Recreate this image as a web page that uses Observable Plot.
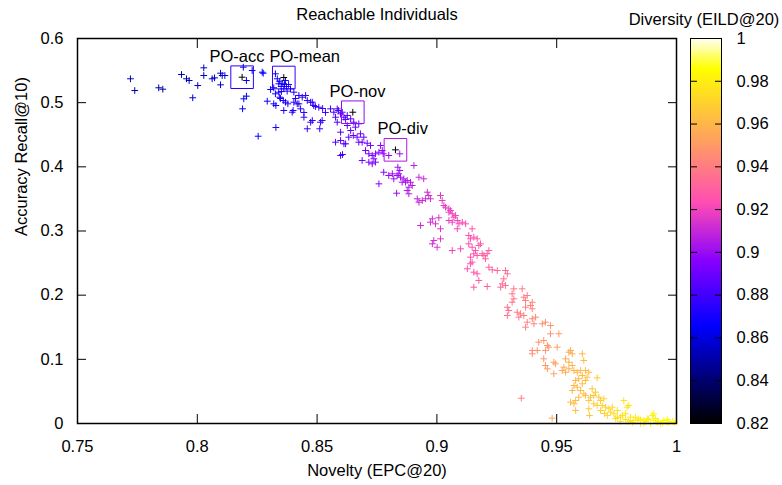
<!DOCTYPE html>
<html><head><meta charset="utf-8">
<script src="https://cdn.jsdelivr.net/npm/d3@7"></script>
<script src="https://cdn.jsdelivr.net/npm/@observablehq/plot@0.6"></script>
<style>
body{margin:0;background:#fff;}
#chart{position:relative;width:782px;height:485px;background:#fff;}
#chart svg{position:absolute;left:0;top:0;}
</style></head><body><div id="chart"></div>
<script>
// Novelty (EPC@20) of each reachable individual
const novelty = [
0.7721,0.7739,0.7839,0.7856,0.7934,0.7955,0.7966,0.8002,0.7981,0.8027,
0.8027,0.8062,0.8072,0.8097,0.8104,0.8097,0.8115,0.8192,0.8229,0.8271,
0.8205,0.8205,0.8194,0.8189,0.8292,0.8254,0.8328,0.8328,
0.8275,0.8306,0.8326,0.8334,0.8344,0.8354,0.8364,0.8372,0.8350,0.8340,
0.8361,0.8319,0.8381,0.8351,0.8368,0.8389,0.8403,0.8424,0.8438,0.8452,
0.8459,0.8480,0.8493,0.8507,0.8445,0.8480,0.8459,0.8511,0.8521,0.8400,
0.8417,0.8359,0.8344,0.8326,0.8378,0.8361,0.8431,0.8340,0.8375,0.8403,
0.8424,0.8473,0.8486,0.8473,0.8514,0.8319,0.8347,0.8368,0.8396,0.8445,
0.8535,0.8523,0.8410,
0.8556,0.8570,0.8584,0.8598,0.8577,0.8612,0.8626,0.8640,0.8653,0.8674,
0.8660,0.8626,0.8640,0.8651,0.8667,0.8681,0.8695,0.8674,0.8598,0.8577,
0.8598,0.8612,0.8598,0.8606,0.8584,0.8632,0.8619,0.8589,0.8605,0.8619,
0.8688,
0.8709,0.8723,0.8702,0.8716,0.8730,0.8744,0.8737,0.8716,0.8730,0.8744,
0.8688,0.8765,0.8772,0.8776,0.8758,0.8845,0.8799,0.8904,0.8837,0.8845,
0.8841,0.8848,0.8834,0.8814,0.8799,0.8778,0.8862,0.8876,0.8890,0.8897,
0.8883,0.8869,0.8855,0.8820,0.8758,0.8832,0.8925,0.8945,0.8876,0.8883,
0.8960,0.8966,0.8973,0.8953,0.8939,0.8925,0.8918,0.9015,0.9022,0.9029,
0.9036,0.9050,0.9057,0.9064,0.9050,0.9078,0.9071,0.8981,0.8973,0.9008,
0.8994,0.8932,0.9050,0.9064,0.9085,0.9092,0.9106,0.9120,0.9015,0.9085,
0.8987,0.9015,0.9001,0.8981,0.9064,0.9099,
0.9147,0.9133,0.9140,0.9154,0.9168,0.9133,0.9147,0.9161,0.9175,0.9182,
0.9154,0.9168,0.9196,0.9203,0.9210,0.9217,0.9189,0.9140,0.9147,0.9140,
0.9127,0.9154,0.9168,0.9175,0.9154,0.9210,0.9217,0.9231,0.9252,0.9286,
0.9294,0.9279,0.9273,0.9266,0.9286,0.9321,0.9314,0.9356,0.9321,0.9314,
0.9363,0.9377,0.9370,0.9398,0.9391,0.9370,0.9398,0.9294,0.9300,0.9294,
0.9335,0.9349,0.9363,0.9342,0.9398,0.9405,0.9412,0.9377,0.9370,0.9440,
0.9453,0.9474,0.9474,0.9509,0.9446,0.9461,0.9453,0.9425,0.9419,0.9398,
0.9502,0.9551,0.9537,0.9446,0.9398,0.9467,
0.9453,0.9461,0.9488,0.9495,0.9488,0.9558,0.9565,0.9607,0.9613,0.9551,
0.9530,0.9523,0.9537,0.9551,0.9565,0.9572,0.9586,0.9600,0.9620,0.9634,
0.9607,0.9592,0.9579,0.9572,0.9565,0.9586,0.9600,0.9607,0.9620,0.9627,
0.9669,0.9613,0.9592,0.9579,0.9558,0.9572,0.9579,0.9620,0.9634,0.9641,
0.9655,0.9662,0.9648,0.9676,0.9683,0.9697,0.9655,0.9634,0.9669,0.9690,
0.9704,0.9718,0.9725,0.9739,0.9732,0.9753,0.9780,0.9794,0.9801,0.9787,
0.9774,0.9766,0.9808,0.9829,0.9843,0.9864,0.9878,0.9899,0.9905,0.9920,
0.9933,0.9947,0.9961,0.9864,0.9892,0.9836,0.9822,0.9711,0.9753,0.9808,
0.9850,0.9637,0.9352,0.9481,0.9905,0.9968,0.9746,0.9787,0.9800,0.9871,
0.9883,0.9925,0.9942,0.9984,0.9700,0.9683,0.9766,0.9817,0.9850,0.9913,
0.9963,0.9992
];
// Accuracy (Recall@10)
const accuracy = [
0.5372,0.5189,0.5232,0.5210,0.5439,0.5372,0.5345,0.5267,0.5076,0.5543,
0.5423,0.5372,0.5387,0.5459,0.5423,0.5278,0.5423,0.5553,0.5501,0.5475,
0.5345,0.5101,0.5060,0.4904,0.5023,0.4477,0.4613,0.4956,
0.5459,0.5205,0.5450,0.5372,0.5334,0.5303,0.5283,0.5252,0.5252,0.5294,
0.5216,0.5232,0.5283,0.5174,0.5345,0.5216,0.5163,0.5112,0.5085,0.5112,
0.5034,0.5007,0.4940,0.4929,0.4773,0.4722,0.4593,0.4593,0.4722,0.4878,
0.4982,0.5034,0.5085,0.5138,0.4982,0.4878,0.4904,0.5163,0.5179,0.5007,
0.4982,0.5007,0.4956,0.4695,0.4695,0.4982,0.5065,0.5007,0.4851,0.4847,
0.4847,0.4909,0.5065,
0.4904,0.4851,0.4904,0.4826,0.4773,0.4773,0.4800,0.4748,0.4695,0.4671,
0.4618,0.4644,0.4566,0.4488,0.4462,0.4515,0.4462,0.4384,0.4540,0.4384,
0.4410,0.4359,0.4177,0.4192,0.4695,0.4462,0.4359,0.4878,0.4851,0.4738,
0.4384,
0.4368,0.4332,0.4254,0.4203,0.4177,0.4203,0.4125,0.4072,0.4047,0.4072,
0.4099,0.4332,0.4254,0.4203,0.4228,0.4203,0.4177,0.4021,0.3994,0.3943,
0.3891,0.3838,0.3865,0.3891,0.3865,0.3916,0.3813,0.3787,0.3760,0.3709,
0.3683,0.3760,0.3760,0.3813,0.3735,0.3589,0.3838,0.3813,0.3631,0.3580,
0.3605,0.3553,0.3502,0.3502,0.3475,0.3449,0.3502,0.3553,0.3475,0.3397,
0.3371,0.3346,0.3319,0.3268,0.3293,0.3241,0.3215,0.3190,0.3137,0.3206,
0.3112,0.3086,0.3164,0.3137,0.3164,0.3112,0.3137,0.3112,0.3034,0.3034,
0.2852,0.2878,0.2747,0.2800,0.2696,0.2722,
0.3034,0.2930,0.2878,0.2903,0.2878,0.2800,0.2747,0.2696,0.2774,0.2800,
0.2645,0.2618,0.2618,0.2567,0.2645,0.2696,0.2645,0.2592,0.2514,0.2489,
0.2411,0.2358,0.2333,0.2229,0.2124,0.2135,0.2436,0.2395,0.2384,0.2384,
0.2333,0.2255,0.2177,0.2124,0.2151,0.2099,0.2021,0.2099,0.1943,0.1890,
0.1968,0.1995,0.1917,0.1890,0.1839,0.1812,0.1787,0.1812,0.1761,0.1683,
0.1734,0.1709,0.1683,0.1657,0.1632,0.1554,0.1657,0.1579,0.1501,0.1554,
0.1579,0.1527,0.1398,0.1398,0.1293,0.1216,0.1138,0.1267,0.1138,0.1138,
0.1189,0.1111,0.1008,0.1008,0.1086,0.1189,
0.0904,0.0852,0.0955,0.0930,0.0775,0.1138,0.1086,0.1086,0.0982,0.0955,
0.0877,0.0826,0.0799,0.0852,0.0904,0.0826,0.0799,0.0826,0.0826,0.0799,
0.0748,0.0697,0.0670,0.0592,0.0514,0.0566,0.0514,0.0619,0.0670,0.0722,
0.0712,0.0463,0.0410,0.0358,0.0332,0.0307,0.0203,0.0436,0.0358,0.0410,
0.0436,0.0488,0.0541,0.0410,0.0358,0.0385,0.0307,0.0229,0.0281,0.0281,
0.0254,0.0229,0.0176,0.0151,0.0254,0.0203,0.0358,0.0254,0.0281,0.0151,
0.0125,0.0098,0.0098,0.0098,0.0073,0.0047,0.0073,0.0125,0.0047,0.0020,
0.0000,0.0047,0.0020,0.0005,0.0000,0.0047,0.0047,0.0125,0.0098,0.0047,
0.0058,0.0125,0.0394,0.0083,0.0151,0.0020,0.0078,0.0062,0.0031,0.0031,
0.0062,0.0031,0.0016,0.0031,0.0156,0.0203,0.0031,0.0016,0.0000,0.0078,
0.0062,0.0016
];
// Diversity (EILD@20)
const diversity = [
0.850,0.850,0.851,0.851,0.853,0.852,0.853,0.854,0.856,0.855,
0.854,0.855,0.855,0.856,0.857,0.856,0.857,0.860,0.862,0.866,
0.860,0.861,0.862,0.863,0.866,0.868,0.870,0.868,
0.864,0.866,0.866,0.867,0.868,0.868,0.869,0.870,0.869,0.868,
0.870,0.867,0.870,0.870,0.868,0.871,0.872,0.873,0.874,0.874,
0.875,0.876,0.877,0.878,0.875,0.876,0.876,0.878,0.878,0.872,
0.873,0.871,0.870,0.869,0.872,0.872,0.874,0.869,0.871,0.873,
0.874,0.876,0.877,0.876,0.878,0.869,0.870,0.871,0.873,0.875,
0.879,0.878,0.873,
0.880,0.881,0.882,0.883,0.882,0.884,0.885,0.886,0.887,0.888,
0.887,0.885,0.886,0.887,0.888,0.889,0.890,0.889,0.884,0.883,
0.884,0.885,0.880,0.881,0.882,0.886,0.885,0.882,0.883,0.884,
0.890,
0.891,0.892,0.891,0.892,0.893,0.894,0.893,0.892,0.893,0.894,
0.890,0.895,0.896,0.896,0.895,0.900,0.897,0.907,0.900,0.901,
0.901,0.902,0.900,0.899,0.898,0.897,0.903,0.904,0.905,0.906,
0.905,0.904,0.903,0.900,0.896,0.899,0.909,0.910,0.905,0.906,
0.911,0.912,0.912,0.911,0.910,0.909,0.908,0.915,0.916,0.916,
0.917,0.918,0.918,0.919,0.918,0.920,0.919,0.912,0.912,0.914,
0.913,0.909,0.918,0.919,0.920,0.921,0.922,0.923,0.915,0.920,
0.913,0.915,0.914,0.912,0.919,0.921,
0.924,0.923,0.924,0.925,0.926,0.923,0.924,0.925,0.926,0.927,
0.925,0.926,0.928,0.928,0.929,0.929,0.927,0.924,0.924,0.924,
0.923,0.925,0.926,0.927,0.926,0.930,0.929,0.930,0.932,0.934,
0.935,0.934,0.933,0.933,0.934,0.937,0.936,0.939,0.937,0.936,
0.939,0.940,0.940,0.942,0.941,0.940,0.942,0.935,0.936,0.935,
0.938,0.939,0.940,0.938,0.942,0.943,0.943,0.941,0.941,0.945,
0.946,0.947,0.948,0.950,0.947,0.948,0.948,0.946,0.946,0.945,
0.951,0.955,0.955,0.948,0.945,0.948,
0.950,0.951,0.952,0.953,0.953,0.956,0.957,0.960,0.961,0.957,
0.956,0.956,0.957,0.958,0.958,0.959,0.960,0.961,0.962,0.963,
0.961,0.961,0.960,0.960,0.960,0.961,0.962,0.962,0.963,0.963,
0.966,0.963,0.962,0.962,0.961,0.962,0.963,0.964,0.965,0.965,
0.966,0.966,0.965,0.967,0.968,0.969,0.967,0.966,0.968,0.969,
0.970,0.971,0.972,0.973,0.972,0.974,0.975,0.976,0.976,0.976,
0.975,0.975,0.977,0.978,0.979,0.980,0.980,0.981,0.982,0.982,
0.983,0.983,0.984,0.981,0.982,0.979,0.978,0.972,0.974,0.977,
0.979,0.967,0.942,0.955,0.981,0.984,0.974,0.976,0.977,0.980,
0.981,0.982,0.983,0.985,0.970,0.969,0.975,0.978,0.979,0.982,
0.984,0.985
];
// Highlighted individuals
const poNames = ["PO-acc", "PO-mean", "PO-nov", "PO-div"];
const poNovelty = [0.8187, 0.8361, 0.8649, 0.8827];
const poAccuracy = [0.5397, 0.5392, 0.4851, 0.4265];
const poDiversity = [0.874, 0.877, 0.899, 0.904];
const poLabelNovelty = [0.8051, 0.8301, 0.8552, 0.8752];
const poLabelAccuracy = [0.5626, 0.5626, 0.5096, 0.4519];
// Ticks
const xTicks = [0.75, 0.8, 0.85, 0.9, 0.95, 1];
const yTicks = [0, 0.1, 0.2, 0.3, 0.4, 0.5, 0.6];
const cbTicks = [0.82, 0.84, 0.86, 0.88, 0.9, 0.92, 0.94, 0.96, 0.98, 1];
const cbDomain = [0.82, 1];

// gnuplot rgbformulae 30,31,32 (black-blue-violet-yellow-white)
function palette(t) {
  const c = v => Math.max(0, Math.min(1, v));
  const r = c(t / 0.32 - 0.78125);
  const g = c(2 * t - 0.84);
  let b;
  if (t < 0.25) b = 4 * t;
  else if (t < 0.42) b = 1;
  else if (t < 0.92) b = -2 * t + 1.84;
  else b = t / 0.08 - 11.5;
  b = c(b);
  return `rgb(${Math.round(r * 255)},${Math.round(g * 255)},${Math.round(b * 255)})`;
}
const colorOpts = {type: "linear", domain: cbDomain, interpolate: palette, clamp: true};

const pts = novelty.map((x, i) => ({x, y: accuracy[i], d: diversity[i]}));
const po = poNames.map((name, i) => ({name, x: poNovelty[i], y: poAccuracy[i], d: poDiversity[i], lx: poLabelNovelty[i], ly: poLabelAccuracy[i]}));
const font = "'Liberation Sans', Arial, Helvetica, sans-serif";
const fmt = d => String(d);
const blank = () => "";
const plusR = 2.3;

const main = Plot.plot({
  width: 782, height: 485,
  marginLeft: 77, marginRight: 106, marginTop: 38, marginBottom: 62,
  style: {fontFamily: font, fontSize: "16.5px", background: "white", color: "black", overflow: "visible"},
  x: {domain: [0.75, 1]},
  y: {domain: [0, 0.6]},
  color: colorOpts,
  marks: [
    Plot.dot(pts, {x: "x", y: "y", stroke: "d", symbol: "plus", r: plusR, strokeWidth: 1}),
    Plot.dot(po, {x: "x", y: "y", stroke: "d", symbol: "square", fill: "none", r: 12.75, strokeWidth: 1}),
    Plot.dot(po, {x: "x", y: "y", stroke: "black", symbol: "plus", r: plusR, strokeWidth: 1}),
    Plot.text(po, {x: "lx", y: "ly", text: "name", textAnchor: "start", lineAnchor: "bottom", fill: "black"}),
    Plot.frame({stroke: "black", strokeWidth: 1.5}),
    Plot.axisX({ticks: xTicks, anchor: "bottom", tickSize: -9, tickFormat: blank, label: null}),
    Plot.axisX({ticks: xTicks, anchor: "top", tickSize: -9, tickFormat: blank, label: null}),
    Plot.axisY({ticks: yTicks, anchor: "left", tickSize: -9, tickFormat: blank, label: null}),
    Plot.axisY({ticks: yTicks, anchor: "right", tickSize: -9, tickFormat: blank, label: null}),
    Plot.axisX({ticks: xTicks, anchor: "bottom", tickSize: 0, tickPadding: 17, tickFormat: fmt, label: null}),
    Plot.axisY({ticks: yTicks, anchor: "left", tickSize: 0, tickPadding: 14, tickFormat: fmt, label: null}),
    Plot.text(["Reachable Individuals"], {frameAnchor: "top", dy: -19, lineAnchor: "bottom", text: d => d}),
    Plot.text(["Novelty (EPC@20)"], {frameAnchor: "bottom", dy: 52, lineAnchor: "bottom", text: d => d}),
    Plot.text(["Accuracy Recall@10)"], {frameAnchor: "left", dx: -51, dy: 5, rotate: -90, lineAnchor: "bottom", text: d => d})
  ]
});

const steps = d3.range(cbDomain[0], cbDomain[1], 0.0005);
const bar = Plot.plot({
  width: 782, height: 485,
  marginLeft: 690, marginRight: 61, marginTop: 38, marginBottom: 62,
  style: {fontFamily: font, fontSize: "16.5px", background: "transparent", color: "black", overflow: "visible"},
  x: {domain: [0, 1], axis: null},
  y: {domain: cbDomain},
  color: colorOpts,
  marks: [
    Plot.rect(steps, {x1: 0, x2: 1, y1: d => d, y2: d => Math.min(cbDomain[1], d + 0.0012), fill: d => d, shapeRendering: "crispEdges"}),
    Plot.frame({stroke: "black", strokeWidth: 1}),
    Plot.axisY({ticks: cbTicks, anchor: "left", tickSize: -7, tickFormat: blank, label: null}),
    Plot.axisY({ticks: cbTicks, anchor: "right", tickSize: -7, tickFormat: blank, label: null}),
    Plot.axisY({ticks: cbTicks, anchor: "right", tickSize: 0, tickPadding: 15, tickFormat: fmt, label: null}),
    Plot.text(["Diversity (EILD@20)"], {frameAnchor: "top", dy: -14, dx: -2, lineAnchor: "bottom", text: d => d})
  ]
});

const host = document.getElementById("chart");
host.appendChild(main);
host.appendChild(bar);
</script></body></html>
